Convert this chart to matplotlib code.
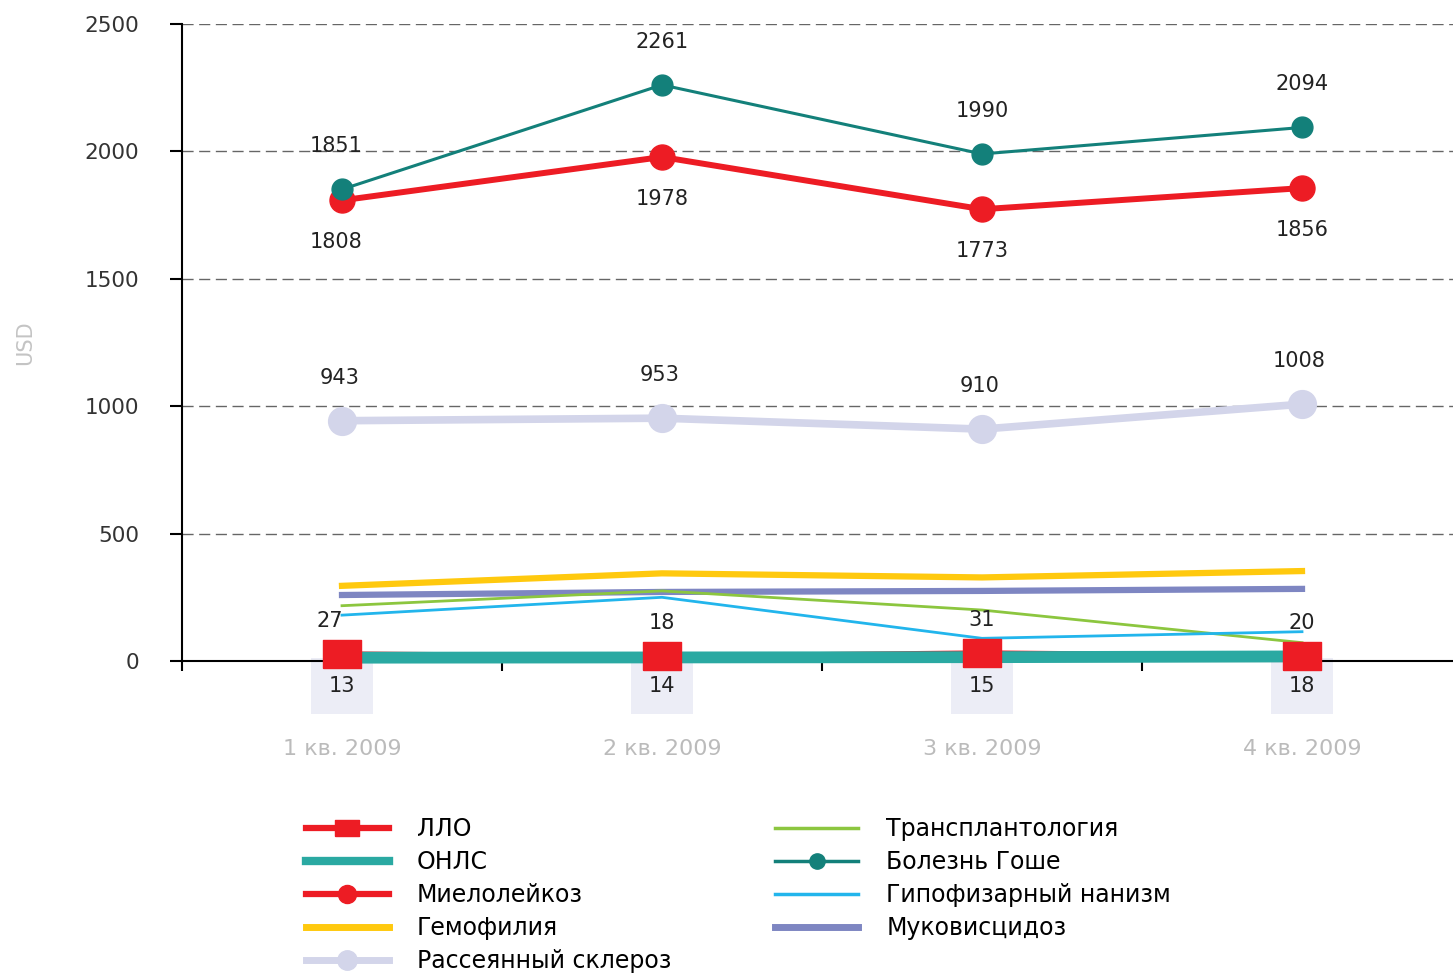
import matplotlib.pyplot as plt
from matplotlib.lines import Line2D

plt.rcParams["font.family"] = ["DejaVu Sans"]

quarters = ["1 кв. 2009", "2 кв. 2009", "3 кв. 2009", "4 кв. 2009"]
llo = [27, 18, 31, 20]
onls = [13, 14, 15, 18]
myelo = [1808, 1978, 1773, 1856]
hemo = [295, 344, 328, 353]
ms = [943, 953, 910, 1008]
transpl = [217, 275, 200, 72]
gaucher = [1851, 2261, 1990, 2094]
hypo = [180, 250, 89, 115]
muco = [259, 271, 275, 283]

C_RED = "#ED1C24"
C_ONLS = "#2AA9A2"
C_GAUCHER = "#13807A"
C_YELLOW = "#FFC90E"
C_MS = "#D3D5EA"
C_MUCO = "#7E86C2"
C_GREEN = "#8CC63F"
C_BLUE = "#22B5EC"

# wide rectangle marker for ЛЛО
RECT = [(-1.4, -1), (1.4, -1), (1.4, 1), (-1.4, 1), (-1.4, -1)]

fig = plt.figure(figsize=(14.53, 9.77), dpi=100)
ax = fig.add_axes([182 / 1453, 1 - 661 / 977, 1280 / 1453, 637 / 977])
x = list(range(len(quarters)))

ax.plot(x, ms, color=C_MS, lw=5.5, marker="o", ms=20, zorder=2)
ax.plot(x, hemo, color=C_YELLOW, lw=4.5, zorder=2)
ax.plot(x, muco, color=C_MUCO, lw=4.5, zorder=2)
ax.plot(x, transpl, color=C_GREEN, lw=2, zorder=3)
ax.plot(x, hypo, color=C_BLUE, lw=2, zorder=3)
ax.plot(x, llo, color=C_RED, lw=4, zorder=3, clip_on=False)
ax.plot(x, onls, color=C_ONLS, lw=8.5, zorder=4, clip_on=False)
ax.plot(x, llo, color=C_RED, lw=0, marker=RECT, ms=28, zorder=5, clip_on=False)
ax.plot(x, myelo, color=C_RED, lw=4.3, marker="o", ms=18, zorder=5)
ax.plot(x, gaucher, color=C_GAUCHER, lw=2.2, marker="o", ms=15, zorder=6)

lbl = dict(ha="center", va="center", fontsize=15, color="#222222", textcoords="offset points")
for i in x:
    ax.annotate(str(gaucher[i]), (i, gaucher[i]), xytext=(-4 if i == 0 else 0, 31), **lbl)
    ax.annotate(str(myelo[i]), (i, myelo[i]), xytext=(-4 if i == 0 else 0, -30), **lbl)
    ax.annotate(str(ms[i]), (i, ms[i]), xytext=(-2, 31), **lbl)
    ax.annotate(str(llo[i]), (i, llo[i]), xytext=(-9 if i == 0 else 0, 24), **lbl)
    ax.annotate(str(onls[i]), (i, 0), xytext=(0, -18), zorder=1,
                bbox=dict(boxstyle="square,pad=0.85", fc="#ECEDF6", ec="none"), **lbl)

ax.set_xlim(-0.5, 3.5)
ax.set_ylim(0, 2500)
ax.set_yticks([0, 500, 1000, 1500, 2000, 2500])
ax.tick_params(axis="y", length=9, width=1.5, pad=22, labelsize=15.5, labelcolor="#333333")
ax.set_xticks([-0.5, 0.5, 1.5, 2.5])
ax.set_xticklabels([])
ax.set_xticks(x, minor=True)
ax.set_xticklabels(quarters, minor=True)
ax.tick_params(axis="x", which="major", length=7, width=1.5)
ax.tick_params(axis="x", which="minor", length=0, pad=56, labelsize=16, labelcolor="#BBBBBB")
ax.grid(axis="y", linestyle=(0, (8, 4)), color="#666666", lw=1)
ax.set_axisbelow(True)
for s in ["top", "right"]:
    ax.spines[s].set_visible(False)
for s in ["left", "bottom"]:
    ax.spines[s].set_linewidth(1.5)
ax.set_ylabel("USD", color="#C4C4C4", fontsize=15, labelpad=35)

handles = [
    Line2D([], [], color=C_RED, lw=4.5, marker=RECT, ms=17),
    Line2D([], [], color=C_ONLS, lw=6),
    Line2D([], [], color=C_RED, lw=4.5, marker="o", ms=13),
    Line2D([], [], color=C_YELLOW, lw=5),
    Line2D([], [], color=C_MS, lw=5, marker="o", ms=14),
    Line2D([], [], color=C_GREEN, lw=2.5),
    Line2D([], [], color=C_GAUCHER, lw=2.5, marker="o", ms=11),
    Line2D([], [], color=C_BLUE, lw=2.5),
    Line2D([], [], color=C_MUCO, lw=5),
]
names = ["ЛЛО", "ОНЛС", "Миелолейкоз", "Гемофилия", "Рассеянный склероз",
         "Трансплантология", "Болезнь Гоше", "Гипофизарный нанизм", "Муковисцидоз"]
fig.legend(handles, names, loc="upper left", bbox_to_anchor=(306 / 1453, 1 - 817 / 977),
           ncol=2, frameon=False, fontsize=17, handlelength=3.5, handletextpad=1.2,
           columnspacing=4.4, labelspacing=0.38, borderaxespad=0, borderpad=0)

fig.savefig("out.png", dpi=100)
